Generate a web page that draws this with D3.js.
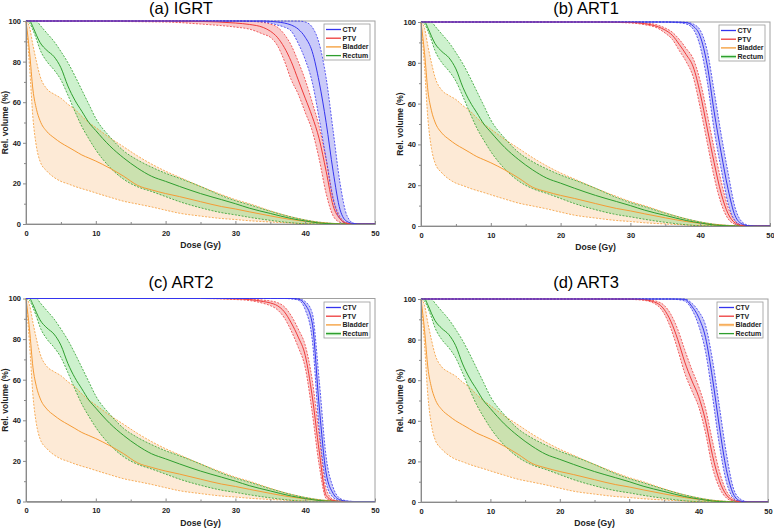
<!DOCTYPE html>
<html>
<head>
<meta charset="utf-8">
<script src="https://cdnjs.cloudflare.com/ajax/libs/d3/7.8.5/d3.min.js"></script>
<style>
body { margin: 0; background: #fff; }
text { font-family: "Liberation Sans", Arial, sans-serif; }
</style>
</head>
<body>
<svg width="774" height="528"></svg>
<script>
// Select the SVG element
var svg = d3.select("svg");

// Dose grids (Gy)
var organDose  = [0, 0.5, 1, 1.5, 2, 3, 4, 5, 6, 7, 8, 9, 10, 12, 14, 16, 18, 20, 22, 25, 28, 30, 32, 35, 38, 40, 42, 44, 46, 48, 50];
var targetDose = [0, 20, 25, 30, 32, 34, 35, 36, 37, 38, 39, 40, 41, 42, 43, 44, 45, 46, 47, 48, 50];

// Organs at risk (same in all four panels)
var bladderMean = [100, 85, 66, 56.5, 51, 45.5, 42.5, 40, 38, 36, 34, 32.5, 31, 27.5, 23.5, 19, 16.8, 15, 13.5, 11, 8.6, 7.4, 6, 4, 2.2, 1.3, 0.6, 0.2, 0, 0, 0];
var bladderHigh = [100, 97, 88, 80, 73, 66.5, 64, 62, 59, 56.5, 53, 50, 47.5, 42.5, 38, 33.5, 29.5, 26, 23, 18.5, 14.5, 12, 10, 6.5, 3.5, 2, 0.9, 0.3, 0, 0, 0];
var bladderLow  = [100, 78, 52, 38, 31, 26, 23, 21, 19.8, 18.5, 17.4, 16.4, 15.3, 13.2, 11.2, 9.8, 8.4, 6.8, 5.3, 3.9, 2.7, 2.2, 1.6, 1, 0.5, 0.2, 0, 0, 0, 0, 0];
var rectumMean  = [100, 100, 97, 93, 89.5, 85.5, 82.5, 77, 68, 61, 55.5, 50, 46, 38.5, 32.5, 27.5, 23.5, 21, 18.5, 15, 12, 10, 7.8, 5.2, 2.7, 1.5, 0.5, 0.1, 0, 0, 0];
var rectumHigh  = [100, 100, 100, 100, 98, 94, 90, 85, 79.5, 73, 66, 59, 52, 43, 36, 31.5, 28, 25, 22.5, 18.5, 14, 11.5, 9.5, 6.3, 3.5, 2, 0.9, 0.3, 0, 0, 0];
var rectumLow   = [100, 99, 95.5, 91, 86, 80, 76, 71, 63.5, 55.5, 48, 42, 36.5, 28, 22, 18.3, 16, 13.5, 11, 8, 5.6, 4.5, 3.3, 1.8, 0.6, 0.1, 0, 0, 0, 0, 0];

// (a) IGRT
var ctvMeanA = [100, 100, 100, 100, 100, 100, 99.8, 99.5, 99, 98, 96, 92, 85, 70, 50, 26, 7, 1.2, 0.2, 0, 0];
var ctvHighA = [100, 100, 100, 100, 100, 100, 100, 100, 100, 100, 100, 99.5, 97, 89, 72, 46, 20, 4, 0.3, 0, 0];
var ctvLowA  = [100, 100, 100, 100, 99.8, 99.5, 99, 98, 97, 95, 89, 81, 70, 52, 32, 12, 2.5, 0.2, 0, 0, 0];
var ptvMeanA = [100, 100, 99.8, 99, 98.3, 96.8, 95, 92, 87, 80, 71, 62, 53, 42, 26, 9, 2.5, 0.3, 0, 0, 0];
var ptvHighA = [100, 100, 100, 100, 99.9, 99.3, 98.5, 97, 93.5, 88, 80, 71, 60, 48, 32, 13, 3.5, 0.5, 0, 0, 0];
var ptvLowA  = [100, 99.5, 98.5, 97, 96, 93.5, 92, 88, 80.5, 71, 64, 55, 46, 32, 15, 4, 0.8, 0, 0, 0, 0];

// (b) ART1
var ctvMeanB = [100, 100, 100, 100, 100, 100, 100, 100, 99.9, 99.7, 98, 93, 79, 56, 36, 18, 5, 1, 0.1, 0, 0];
var ctvHighB = [100, 100, 100, 100, 100, 100, 100, 100, 100, 99.9, 99, 96, 86, 66, 45, 26, 9, 2, 0.3, 0, 0];
var ctvLowB  = [100, 100, 100, 100, 100, 100, 100, 99.8, 99.6, 99, 96.5, 88, 71, 47, 28, 11, 2.5, 0.3, 0, 0, 0];
var ptvMeanB = [100, 100, 100, 99.8, 99.2, 97.6, 96, 93.5, 89, 84, 78, 65, 48, 31, 16, 6, 1.5, 0.2, 0, 0, 0];
var ptvHighB = [100, 100, 100, 100, 99.6, 98.4, 97, 95, 91.5, 87, 82, 71, 55, 38, 22, 9, 2.5, 0.4, 0, 0, 0];
var ptvLowB  = [100, 100, 100, 99.5, 98.7, 96.8, 94.5, 91.5, 86, 80.5, 73, 58, 41, 24, 11, 3.5, 0.8, 0, 0, 0, 0];

// (c) ART2
var ctvMeanC = [100, 100, 100, 100, 100, 100, 100, 100, 100, 100, 99.7, 97, 88, 47, 14, 4, 0.8, 0.1, 0, 0, 0];
var ctvHighC = [100, 100, 100, 100, 100, 100, 100, 100, 100, 100, 99.9, 98.5, 93, 60, 22, 7, 1.5, 0.3, 0, 0, 0];
var ctvLowC  = [100, 100, 100, 100, 100, 100, 100, 100, 100, 99.8, 99.2, 94.5, 80, 36, 9, 2, 0.3, 0, 0, 0, 0];
var ptvMeanC = [100, 100, 100, 99.8, 99.5, 98.5, 97.8, 96.5, 93.5, 88, 81, 72, 52, 25, 3, 0.5, 0, 0, 0, 0, 0];
var ptvHighC = [100, 100, 100, 100, 99.8, 99.2, 98.8, 98, 96, 91.5, 85, 77, 60, 33, 6, 1, 0, 0, 0, 0, 0];
var ptvLowC  = [100, 100, 100, 99.5, 99, 97.6, 96.5, 94.5, 90.5, 84, 76, 66, 44, 18, 1.5, 0.2, 0, 0, 0, 0, 0];

// (d) ART3
var ctvMeanD = [100, 100, 100, 100, 100, 100, 100, 100, 100, 99.8, 96.5, 91, 81, 61, 37, 16, 4, 0.5, 0, 0, 0];
var ctvHighD = [100, 100, 100, 100, 100, 100, 100, 100, 100, 100, 98, 94, 87, 70, 47, 24, 7, 1.5, 0.2, 0, 0];
var ctvLowD  = [100, 100, 100, 100, 100, 100, 100, 100, 99.7, 99, 95, 87, 74, 52, 28, 10, 2, 0.2, 0, 0, 0];
var ptvMeanD = [100, 100, 100, 100, 99.7, 98, 95, 89, 80, 69, 60, 52, 40, 23, 10.5, 3.5, 0.8, 0.1, 0, 0, 0];
var ptvHighD = [100, 100, 100, 100, 99.9, 98.8, 97, 92.5, 85, 75, 65.5, 57, 46, 30, 15, 5.5, 1.5, 0.3, 0, 0, 0];
var ptvLowD  = [100, 100, 100, 99.8, 99.4, 97, 93, 85.5, 75, 63.5, 55, 47, 34, 17, 7, 2, 0.4, 0, 0, 0, 0];

// Labels
var titles = ["(a) IGRT", "(b) ART1", "(c) ART2", "(d) ART3"];
var legendNames = ["CTV", "PTV", "Bladder", "Rectum"];
var xTicks = [0, 10, 20, 30, 40, 50];
var xMinor = [5, 15, 25, 35, 45];
var yTicks = [0, 20, 40, 60, 80, 100];
var yMinor = [10, 30, 50, 70, 90];

var targets = [
    {ctv: [ctvLowA, ctvMeanA, ctvHighA], ptv: [ptvLowA, ptvMeanA, ptvHighA]},
    {ctv: [ctvLowB, ctvMeanB, ctvHighB], ptv: [ptvLowB, ptvMeanB, ptvHighB]},
    {ctv: [ctvLowC, ctvMeanC, ctvHighC], ptv: [ptvLowC, ptvMeanC, ptvHighC]},
    {ctv: [ctvLowD, ctvMeanD, ctvHighD], ptv: [ptvLowD, ptvMeanD, ptvHighD]}
];

var colors = {CTV: "#3434ee", PTV: "#ee3a3a", Bladder: "#f59b35", Rectum: "#2e9e2e"};
var fills  = {CTV: "rgba(90,90,235,0.32)", PTV: "rgba(240,80,80,0.3)",
              Bladder: "rgba(250,185,120,0.3)", Rectum: "rgba(70,205,70,0.27)"};

// Panel placement
var layout = [
    {x0: 26,  x1: 375, y0: 21,    y1: 224,   tx: 181, ty: 13.5, wide: null},
    {x0: 421, x1: 770, y0: 22,    y1: 226,   tx: 586, ty: 13.5, wide: "Rectum"},
    {x0: 26,  x1: 375, y0: 298.5, y1: 501.5, tx: 181, ty: 288,  wide: "Rectum"},
    {x0: 421, x1: 768, y0: 299,   y1: 502,   tx: 586, ty: 288,  wide: "Bladder"}
];

layout.forEach(function(L, i) {
    var x = d3.scaleLinear().domain([0, 50]).range([L.x0, L.x1]);
    var y = d3.scaleLinear().domain([0, 100]).range([L.y1, L.y0]);
    var g = svg.append("g");

    var series = [
        {name: "Bladder", dose: organDose, low: bladderLow, mean: bladderMean, high: bladderHigh},
        {name: "Rectum", dose: organDose, low: rectumLow, mean: rectumMean, high: rectumHigh},
        {name: "PTV", dose: targetDose, low: targets[i].ptv[0], mean: targets[i].ptv[1], high: targets[i].ptv[2]},
        {name: "CTV", dose: targetDose, low: targets[i].ctv[0], mean: targets[i].ctv[1], high: targets[i].ctv[2]}
    ];
    series.forEach(function(s) {
        s.pts = s.dose.map(function(d, k) { return {d: d, lo: s.low[k], m: s.mean[k], hi: s.high[k]}; });
    });

    var area = d3.area().curve(d3.curveMonotoneX)
        .x(function(p) { return x(p.d); })
        .y0(function(p) { return y(p.lo); })
        .y1(function(p) { return y(p.hi); });
    function lineOf(key) {
        return d3.line().curve(d3.curveMonotoneX)
            .x(function(p) { return x(p.d); })
            .y(function(p) { return y(p[key]); });
    }

    // frame
    g.append("rect")
        .attr("x", L.x0).attr("y", L.y0)
        .attr("width", L.x1 - L.x0).attr("height", L.y1 - L.y0)
        .attr("fill", "none").attr("stroke", "#a0a0a0").attr("stroke-width", 1);

    // bands
    series.forEach(function(s) {
        g.append("path").datum(s.pts).attr("d", area).attr("fill", fills[s.name]);
    });
    // dashed bounds
    series.forEach(function(s) {
        ["lo", "hi"].forEach(function(k) {
            g.append("path").datum(s.pts).attr("d", lineOf(k))
                .attr("fill", "none").attr("stroke", colors[s.name])
                .attr("stroke-width", 0.8).attr("stroke-dasharray", "2,1.4");
        });
    });
    // mean lines
    series.forEach(function(s) {
        g.append("path").datum(s.pts).attr("d", lineOf("m"))
            .attr("fill", "none").attr("stroke", colors[s.name]).attr("stroke-width", 1);
    });

    // axes
    var xAxis = g.append("g").attr("transform", "translate(0," + L.y1 + ")")
        .call(d3.axisBottom(x).tickValues(xTicks).tickSizeInner(-3).tickSizeOuter(0).tickPadding(6.3));
    g.append("g").attr("transform", "translate(0," + L.y1 + ")")
        .call(d3.axisBottom(x).tickValues(xMinor).tickSizeInner(-2).tickSizeOuter(0).tickFormat(""));
    var yAxis = g.append("g").attr("transform", "translate(" + L.x0 + ",0)")
        .call(d3.axisLeft(y).tickValues(yTicks).tickSizeInner(3).tickSizeOuter(0).tickPadding(2));
    g.append("g").attr("transform", "translate(" + L.x0 + ",0)")
        .call(d3.axisLeft(y).tickValues(yMinor).tickSizeInner(2).tickSizeOuter(0).tickFormat(""));

    g.selectAll(".domain").attr("stroke", "#8a8a8a");
    g.selectAll(".tick line").attr("stroke", "#8a8a8a");
    g.selectAll(".tick text")
        .attr("font-family", "Liberation Sans, Arial, sans-serif")
        .attr("font-size", 7.5).attr("font-weight", "bold").attr("fill", "#222");
    xAxis.attr("font-family", null);
    yAxis.attr("font-family", null);

    // axis titles
    g.append("text")
        .attr("x", (L.x0 + L.x1) / 2).attr("y", L.y1 + 24)
        .attr("text-anchor", "middle").attr("font-size", 8.6).attr("font-weight", "bold").attr("fill", "#222")
        .text("Dose (Gy)");
    g.append("text")
        .attr("transform", "translate(" + (L.x0 - 18) + "," + ((L.y0 + L.y1) / 2) + ") rotate(-90)")
        .attr("text-anchor", "middle").attr("font-size", 8.5).attr("font-weight", "bold").attr("fill", "#222")
        .text("Rel. volume (%)");

    // panel title
    g.append("text")
        .attr("x", L.tx).attr("y", L.ty)
        .attr("text-anchor", "middle").attr("font-size", 16.5).attr("fill", "#000")
        .text(titles[i]);

    // legend
    var lx = L.x1 - 51, ly = Math.round(L.y0) + 3;
    var lg = g.append("g").attr("transform", "translate(" + lx + "," + ly + ")");
    lg.append("rect").attr("width", 46).attr("height", 36)
        .attr("fill", "#fff").attr("stroke", "#9a9a9a").attr("stroke-width", 0.8);
    legendNames.forEach(function(n, k) {
        var yy = 5.5 + k * 8.7;
        if (L.wide === n) {
            lg.append("line").attr("x1", 2).attr("x2", 17).attr("y1", yy).attr("y2", yy)
                .attr("stroke", fills[n]).attr("stroke-width", 3.5);
        }
        lg.append("line").attr("x1", 2).attr("x2", 17).attr("y1", yy).attr("y2", yy)
            .attr("stroke", colors[n]).attr("stroke-width", 1.3);
        lg.append("text").attr("x", 18.5).attr("y", yy + 2.5)
            .attr("font-size", 7).attr("font-weight", "bold").attr("fill", "#222")
            .text(n);
    });
});
</script>
</body>
</html>
